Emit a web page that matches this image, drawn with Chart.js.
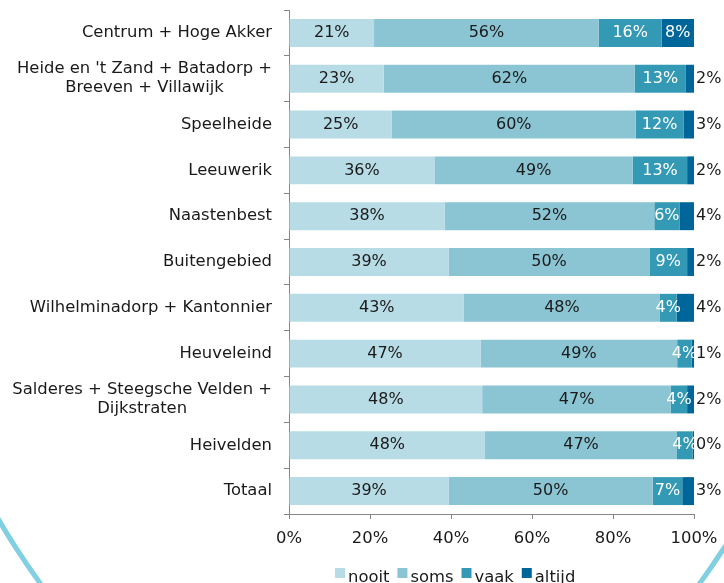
<!DOCTYPE html>
<html><head><meta charset="utf-8">
<script src="https://cdn.jsdelivr.net/npm/chart.js@4/dist/chart.umd.min.js"></script>
<style>html,body{margin:0;padding:0;background:#fff}#wrap{width:724px;height:583px;position:relative;overflow:hidden}</style>
</head><body><div id="wrap"><canvas id="c" width="724" height="583"></canvas></div>
<script>
const categories = [
  ["Centrum + Hoge Akker"],
  ["Heide en 't Zand + Batadorp +", "Breeven + Villawijk"],
  ["Speelheide"],
  ["Leeuwerik"],
  ["Naastenbest"],
  ["Buitengebied"],
  ["Wilhelminadorp + Kantonnier"],
  ["Heuveleind"],
  ["Salderes + Steegsche Velden +", "Dijkstraten"],
  ["Heivelden"],
  ["Totaal"]
];
const seriesNames = ["nooit", "soms", "vaak", "altijd"];
const nooit  = [21.0, 23.4, 25.4, 35.9, 38.4, 39.4, 43.2, 47.3, 47.7, 48.4, 39.4];
const soms   = [55.5, 62.0, 60.2, 49.0, 51.8, 49.6, 48.4, 48.55, 46.6, 47.4, 50.4];
const vaak   = [15.5, 12.6, 11.8, 13.4, 6.2, 9.3, 4.1, 3.6, 4.0, 3.9, 7.3];
const altijd = [8.0, 2.0, 2.6, 1.7, 3.6, 1.7, 4.3, 0.55, 1.7, 0.3, 2.9];
const xTicks = [0, 20, 40, 60, 80, 100];

const colors = ['#b7dce6', '#8bc5d3', '#3399b4', '#006699'];
const FONT = '"DejaVu Sans", Verdana, sans-serif';
const AXIS_FS = 16.4;
const DATA_FS = 16;
const TXT = '#1a1a1a';
const AXIS = '#868686';

const decoPlugin = {
  id: 'deco',
  beforeDraw(chart) {
    const ctx = chart.ctx;
    ctx.save();
    ctx.fillStyle = '#fff';
    ctx.fillRect(0, 0, chart.width, chart.height);
    ctx.beginPath();
    ctx.ellipse(370, 0, 500, 776, 0, 0, Math.PI * 2);
    ctx.strokeStyle = '#80cfe3';
    ctx.lineWidth = 5;
    ctx.stroke();
    ctx.restore();
  }
};

const labelPlugin = {
  id: 'labels',
  afterDatasetsDraw(chart) {
    const ctx = chart.ctx;
    ctx.save();
    ctx.font = DATA_FS + 'px ' + FONT;
    ctx.textBaseline = 'middle';
    chart.data.datasets.forEach((ds, di) => {
      const meta = chart.getDatasetMeta(di);
      meta.data.forEach((bar, i) => {
        const v = ds.data[i];
        const txt = Math.round(v) + '%';
        const w = ctx.measureText(txt).width;
        const segW = Math.abs(bar.x - bar.base);
        const cx = (bar.x + bar.base) / 2;
        if (di === 3) {
          if (segW >= w + 4) {
            ctx.fillStyle = '#ffffff';
            ctx.textAlign = 'center';
            ctx.fillText(txt, cx, bar.y);
          } else {
            ctx.fillStyle = TXT;
            ctx.textAlign = 'left';
            ctx.fillText(txt, chart.chartArea.right + 2, bar.y);
          }
        } else {
          ctx.fillStyle = di === 2 ? '#ffffff' : TXT;
          ctx.textAlign = 'center';
          ctx.fillText(txt, cx, bar.y);
        }
      });
    });
    ctx.restore();
  },
  afterDraw(chart) {
    const ctx = chart.ctx;
    const yScale = chart.scales.y;
    ctx.save();
    ctx.font = AXIS_FS + 'px ' + FONT;
    ctx.fillStyle = TXT;
    ctx.textBaseline = 'middle';
    const rightX = 272;
    categories.forEach((lines, i) => {
      const y = yScale.getPixelForValue(i);
      if (lines.length === 1) {
        ctx.textAlign = 'right';
        ctx.fillText(lines[0], rightX, y);
      } else {
        const maxW = Math.max(...lines.map(l => ctx.measureText(l).width));
        const c = rightX - maxW / 2;
        const lh = 19;
        const y0 = y - (lines.length - 1) * lh / 2;
        ctx.textAlign = 'center';
        lines.forEach((l, k) => ctx.fillText(l, c, y0 + k * lh));
      }
    });
    // legend
    let x = 335;
    const boxTop = 568, box = 10, textY = 582;
    ctx.textAlign = 'left';
    ctx.textBaseline = 'alphabetic';
    seriesNames.forEach((n, k) => {
      ctx.fillStyle = colors[k];
      ctx.fillRect(x, boxTop, box, box);
      x += box + 3;
      ctx.fillStyle = TXT;
      ctx.fillText(n, x, textY);
      x += ctx.measureText(n).width + 8;
    });
    ctx.restore();
  }
};

const seriesData = [nooit, soms, vaak, altijd];
new Chart(document.getElementById('c'), {
  type: 'bar',
  data: {
    labels: categories.map(c => c.join(' ')),
    datasets: seriesNames.map((n, k) => ({
      label: n,
      data: seriesData[k],
      backgroundColor: colors[k],
      borderWidth: 0,
      barPercentage: 0.61,
      categoryPercentage: 1.0
    }))
  },
  options: {
    indexAxis: 'y',
    responsive: false,
    animation: false,
    layout: { padding: { top: 10, right: 30, bottom: 0, left: 0 } },
    plugins: { legend: { display: false }, tooltip: { enabled: false } },
    scales: {
      x: {
        type: 'linear', stacked: true, min: 0, max: 100,
        afterBuildTicks(s) { s.ticks = xTicks.map(v => ({ value: v })); },
        ticks: { callback: v => v + '%', font: { family: FONT, size: AXIS_FS }, color: TXT, padding: 10, maxRotation: 0 },
        grid: { drawOnChartArea: false, drawTicks: true, tickLength: 5, color: AXIS },
        border: { color: AXIS, width: 1 },
        afterFit(s) { s.height = 69; s.paddingLeft = 0; s.paddingRight = 0; }
      },
      y: {
        stacked: true,
        ticks: { display: false },
        grid: { drawOnChartArea: false, drawTicks: true, tickLength: 5, color: AXIS, offset: true },
        border: { color: AXIS, width: 1 },
        afterFit(s) { s.width = 289; s.paddingTop = 0; s.paddingBottom = 0; }
      }
    }
  },
  plugins: [decoPlugin, labelPlugin]
});
</script>
</body></html>
